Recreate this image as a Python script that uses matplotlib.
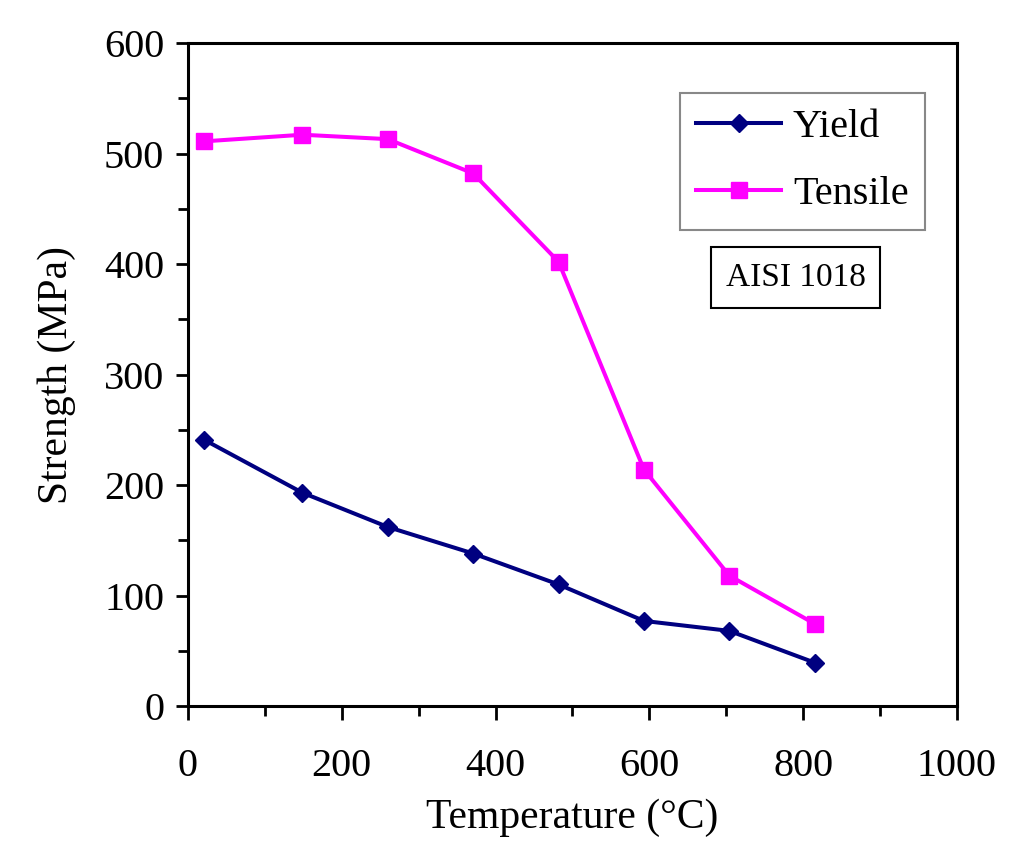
import matplotlib.pyplot as plt
from matplotlib.ticker import MultipleLocator

temperature = [21, 149, 260, 371, 482, 593, 704, 816]
yield_strength = [241, 193, 162, 138, 110, 77, 68, 39]
tensile_strength = [511, 517, 513, 482, 402, 214, 118, 74]

plt.rcParams['font.family'] = ['Liberation Serif', 'DejaVu Serif']

fig = plt.figure(figsize=(10.1, 8.5), dpi=100)
ax = fig.add_axes([0.186, 0.1694, 0.7615, 0.78])

ax.plot(temperature, yield_strength, color='#000080', lw=2.9, marker='D', ms=9, label='Yield')
ax.plot(temperature, tensile_strength, color='#ff00ff', lw=2.9, marker='s', ms=12, label='Tensile')

ax.set_xlim(0, 1000)
ax.set_ylim(0, 600)
ax.xaxis.set_major_locator(MultipleLocator(200))
ax.xaxis.set_minor_locator(MultipleLocator(100))
ax.yaxis.set_major_locator(MultipleLocator(100))
ax.yaxis.set_minor_locator(MultipleLocator(50))
ax.tick_params(axis='both', which='both', direction='out', width=2, labelsize=29, colors='black')
ax.tick_params(axis='x', which='major', length=10, pad=20)
ax.tick_params(axis='x', which='minor', length=7)
ax.tick_params(axis='y', which='major', length=9, pad=8)
ax.tick_params(axis='y', which='minor', length=7)
for s in ax.spines.values():
    s.set_linewidth(2.2)

ax.set_xlabel('Temperature (°C)', fontsize=30, labelpad=10)
ax.set_ylabel('Strength (MPa)', fontsize=30, labelpad=20)

leg = ax.legend(loc='upper right', bbox_to_anchor=(0.958, 0.925), fontsize=29, fancybox=False,
                framealpha=1, edgecolor='#888888', handlelength=2.1, borderpad=0.4,
                labelspacing=0.75, handletextpad=0.3, borderaxespad=0)
leg.get_frame().set_linewidth(1.5)

ax.text(790, 388, 'AISI 1018', fontsize=24, ha='center', va='center',
        bbox=dict(boxstyle='square,pad=0.45', fc='white', ec='black', lw=1.5))

fig.savefig('out.png', dpi=100)
